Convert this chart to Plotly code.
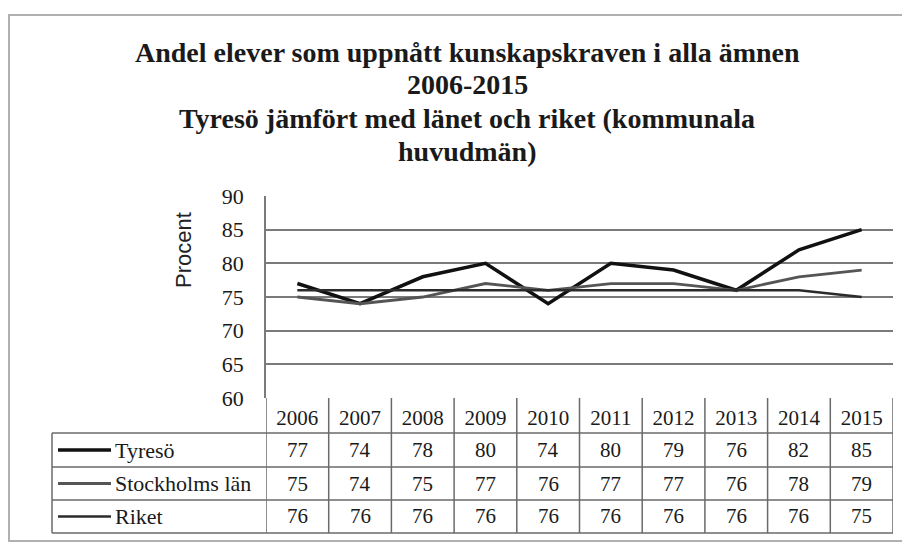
import plotly.graph_objects as go

# ---- data ----
years = ["2006", "2007", "2008", "2009", "2010", "2011", "2012", "2013", "2014", "2015"]
tyreso = [77, 74, 78, 80, 74, 80, 79, 76, 82, 85]
stockholms_lan = [75, 74, 75, 77, 76, 77, 77, 76, 78, 79]
riket = [76, 76, 76, 76, 76, 76, 76, 76, 76, 75]
series_names = ["Tyresö", "Stockholms län", "Riket"]
y_ticks = [60, 65, 70, 75, 80, 85, 90]
title_lines = [
    "Andel elever som uppnått kunskapskraven i alla ämnen",
    "2006-2015",
    "Tyresö jämfört med länet och riket (kommunala",
    "huvudmän)",
]
y_title = "Procent"

# ---- layout geometry (pixels of the 910x544 window; page body has an 8px margin) ----
OFF = 8
W, H = 910 - OFF, 544 - OFF
PL, PR, PT, PB = 266, 893, 196, 398


def px_x(px):
    return (px - PL) / (PR - PL)


def px_y(py):
    return (PB - py) / (PB - PT)


serif = "'Times New Roman', 'Liberation Serif', 'DejaVu Serif', serif"
sans = "'Liberation Sans', Arial, sans-serif"
colors = ["#111111", "#555555", "#2b2b2b"]
widths = [3.5, 2.8, 2.6]
all_series = [tyreso, stockholms_lan, riket]

fig = go.Figure()
for name, vals, c, w in zip(series_names, all_series, colors, widths):
    fig.add_trace(go.Scatter(x=years, y=vals, mode="lines", name=name,
                             line=dict(color=c, width=w), showlegend=False))

annotations = []
shapes = []

# title lines
for i, t in enumerate(title_lines):
    annotations.append(dict(text=f"<b>{t}</b>", x=px_x(467), y=px_y(52 + 33 * i),
                            xref="paper", yref="paper", xanchor="center", yanchor="middle",
                            showarrow=False, font=dict(family=serif, size=28, color="#1a1a1a")))

# y axis title
annotations.append(dict(text=y_title, x=px_x(183), y=px_y(250), xref="paper", yref="paper",
                        textangle=-90, showarrow=False, xanchor="center", yanchor="middle",
                        font=dict(family=sans, size=22, color="#222")))

# data table
row_tops = [433, 467, 500, 533]
grid_col = "#6a6a6a"
for r, (name, vals, c, w) in enumerate(zip(series_names, all_series, colors, widths)):
    cy = (row_tops[r] + row_tops[r + 1]) / 2
    for i, v in enumerate(vals):
        annotations.append(dict(text=str(v), x=i, y=px_y(cy), xref="x", yref="paper",
                                showarrow=False, xanchor="center", yanchor="middle",
                                font=dict(family=serif, size=21, color="#1a1a1a")))
    annotations.append(dict(text=name, x=px_x(113), y=px_y(cy), xref="paper", yref="paper",
                            showarrow=False, xanchor="left", yanchor="middle",
                            font=dict(family=serif, size=22, color="#1a1a1a")))
    shapes.append(dict(type="line", xref="paper", yref="paper", x0=px_x(58), x1=px_x(111),
                       y0=px_y(cy), y1=px_y(cy), line=dict(color=c, width=w)))

# table grid lines
for yy in row_tops:
    shapes.append(dict(type="line", xref="paper", yref="paper", x0=px_x(52), x1=1,
                       y0=px_y(yy), y1=px_y(yy), line=dict(color=grid_col, width=1.5)))
shapes.append(dict(type="line", xref="paper", yref="paper", x0=px_x(52), x1=px_x(52),
                   y0=px_y(433), y1=px_y(533), line=dict(color=grid_col, width=1.5)))
for k in range(len(years) + 1):
    shapes.append(dict(type="line", xref="x", yref="paper", x0=k - 0.5, x1=k - 0.5,
                       y0=px_y(398), y1=px_y(533), line=dict(color=grid_col, width=1.5)))

# outer chart border
shapes.append(dict(type="rect", xref="paper", yref="paper", x0=px_x(9), x1=px_x(915),
                   y0=px_y(15), y1=px_y(541), line=dict(color="#b0b0b0", width=2)))

fig.update_layout(
    width=W, height=H,
    margin=dict(l=PL - OFF, r=910 - PR, t=PT - OFF, b=544 - PB, pad=0),
    paper_bgcolor="white", plot_bgcolor="white",
    font=dict(family=serif),
    annotations=annotations, shapes=shapes,
    xaxis=dict(type="category", range=[-0.5, 9.5], showgrid=False, zeroline=False,
               ticks="", ticklabelstandoff=5,
               tickfont=dict(family=serif, size=21, color="#1a1a1a"), showline=False),
    yaxis=dict(range=[60, 90], tickvals=y_ticks, showgrid=True, gridcolor="#7a7a7a",
               gridwidth=1.5, zeroline=False, showline=True, linecolor="#7a7a7a", linewidth=1.5,
               ticks="", ticklabelstandoff=16,
               tickfont=dict(family=serif, size=22, color="#1a1a1a")),
)

fig.write_html("out.html")
